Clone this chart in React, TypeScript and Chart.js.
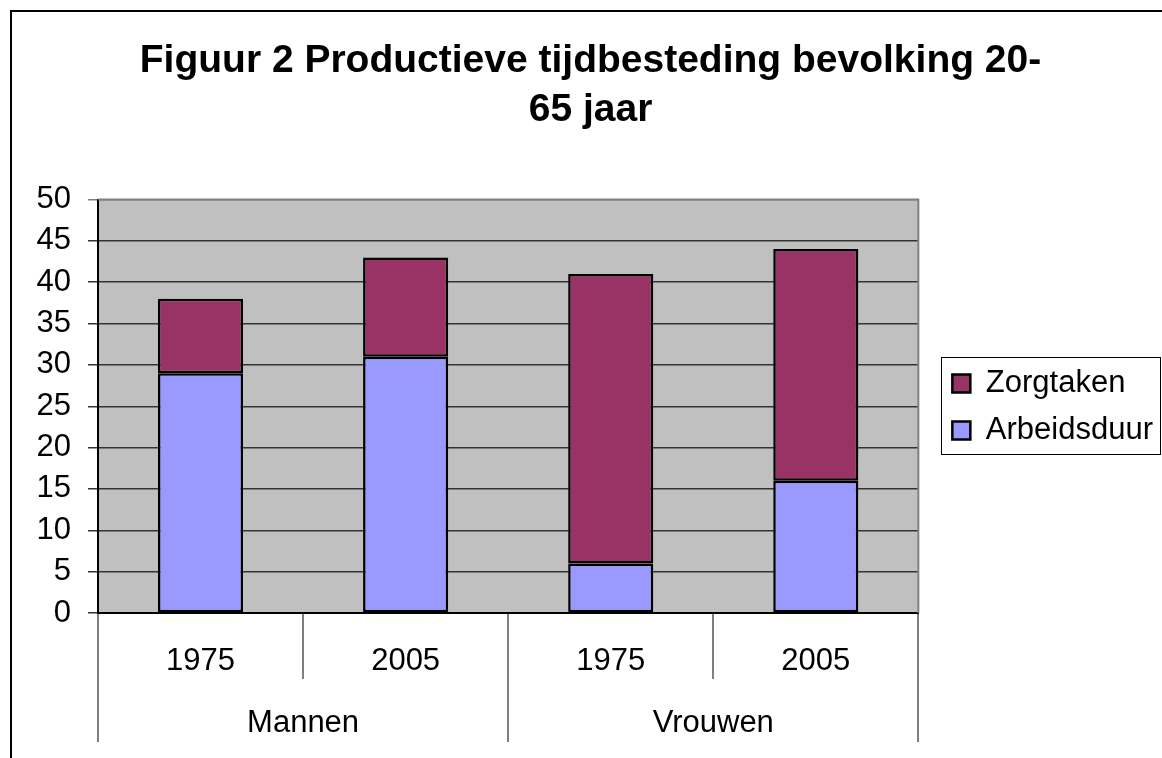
import React, { useEffect, useRef } from 'react';
import { Chart, registerables } from 'chart.js';

Chart.register(...registerables);

const titleLines = ['Figuur 2 Productieve tijdbesteding bevolking 20-', '65 jaar'];
const categories = ['1975', '2005', '1975', '2005'];
const groups = ['Mannen', 'Vrouwen'];
const arbeidsduur = [29, 31, 6, 16];
const zorgtaken = [9, 12, 35, 28];
const yMin = 0;
const yMax = 50;
const yStep = 5;

const FONT = '"Liberation Sans", Arial, sans-serif';
const LEGEND_SHIFT_X = 18;
const LEGEND_SHIFT_Y = 28;

const plotBg = {
  id: 'plotBg',
  afterLayout(chart: any) {
    const lg = chart.legend;
    if (lg) {
      lg.left += LEGEND_SHIFT_X;
      lg.right += LEGEND_SHIFT_X;
      lg.top += LEGEND_SHIFT_Y;
      lg.bottom += LEGEND_SHIFT_Y;
    }
  },
  beforeDraw(chart: any) {
    const { ctx, chartArea: a } = chart;
    ctx.save();
    ctx.fillStyle = '#C0C0C0';
    ctx.fillRect(a.left, a.top, a.right - a.left, a.bottom - a.top);
    ctx.restore();
  },
  beforeDatasetsDraw(chart: any) {
    const { ctx, chartArea: a } = chart;
    ctx.save();
    ctx.strokeStyle = '#808080';
    ctx.lineWidth = 2;
    ctx.beginPath();
    ctx.moveTo(a.left, a.top);
    ctx.lineTo(a.right, a.top);
    ctx.lineTo(a.right, a.bottom);
    ctx.stroke();
    ctx.restore();
  },
};

const legendFrame = {
  id: 'legendFrame',
  afterDraw(chart: any) {
    const lg = chart.legend;
    if (!lg || !lg.legendHitBoxes || !lg.legendHitBoxes.length) return;
    const hb = lg.legendHitBoxes;
    const first = hb[0];
    const last = hb[hb.length - 1];
    const { ctx } = chart;
    const x0 = Math.round(first.left - 11) + 0.5;
    const x1 = Math.round(chart.width - 1) - 0.5;
    const y0 = Math.round(first.top - 11) + 0.5;
    const y1 = Math.round(last.top + last.height + 8) + 0.5;
    ctx.save();
    ctx.strokeStyle = '#000';
    ctx.lineWidth = 1;
    ctx.strokeRect(x0, y0, x1 - x0, y1 - y0);
    ctx.restore();
  },
};

export default function App() {
  const ref = useRef<HTMLCanvasElement>(null);

  useEffect(() => {
    if (!ref.current) return;
    Chart.defaults.font.family = FONT;
    Chart.defaults.color = '#000';
    const chart = new Chart(ref.current, {
      type: 'bar',
      data: {
        labels: categories,
        datasets: [
          {
            label: 'Arbeidsduur',
            data: arbeidsduur,
            backgroundColor: '#9999FF',
            borderColor: '#000',
            borderWidth: 2.5,
            borderSkipped: false,
            barPercentage: 0.415,
            categoryPercentage: 1,
            xAxisID: 'x',
            yAxisID: 'y',
          },
          {
            label: 'Zorgtaken',
            data: zorgtaken,
            backgroundColor: '#993366',
            borderColor: '#000',
            borderWidth: 2.5,
            borderSkipped: false,
            barPercentage: 0.415,
            categoryPercentage: 1,
            xAxisID: 'x',
            yAxisID: 'y',
          },
        ],
      },
      options: {
        responsive: false,
        animation: false,
        layout: { padding: { left: 36, right: 17, top: 0, bottom: 0 } },
        plugins: {
          title: {
            display: true,
            text: titleLines,
            font: { size: 39, weight: 'bold', family: FONT, lineHeight: 1.25 },
            color: '#000',
            padding: { top: 37, bottom: 65 },
          },
          legend: {
            position: 'right',
            reverse: true,
            onClick: () => {},
            labels: {
              font: { size: 31, family: FONT },
              color: '#000',
              boxWidth: 18,
              boxHeight: 18,
              padding: 16,
            },
          },
          tooltip: { enabled: false },
        },
        scales: {
          x: {
            type: 'category',
            position: 'bottom',
            stacked: true,
            weight: 0,
            offset: true,
            grid: {
              offset: true,
              drawOnChartArea: false,
              drawTicks: true,
              tickLength: 66,
              color: '#808080',
              lineWidth: 2,
            },
            border: { display: true, color: '#000', width: 2 },
            ticks: {
              font: { size: 31, family: FONT },
              color: '#000',
              padding: -36,
              maxRotation: 0,
              autoSkip: false,
            },
            afterFit: (s: any) => {
              s.height = 66;
            },
          },
          x2: {
            type: 'category',
            position: 'bottom',
            labels: groups,
            weight: 1,
            offset: true,
            grid: {
              offset: true,
              drawOnChartArea: false,
              drawTicks: true,
              tickLength: 63,
              color: '#808080',
              lineWidth: 2,
            },
            border: { display: false },
            ticks: {
              font: { size: 31, family: FONT },
              color: '#000',
              padding: -37,
              maxRotation: 0,
              autoSkip: false,
            },
            afterFit: (s: any) => {
              s.height = 79;
            },
          },
          y: {
            type: 'linear',
            position: 'left',
            stacked: true,
            min: yMin,
            max: yMax,
            ticks: {
              stepSize: yStep,
              font: { size: 31, family: FONT },
              color: '#000',
              padding: 17,
            },
            grid: {
              color: (c: any) => (c.tick && c.tick.value === yMax ? '#808080' : '#333'),
              lineWidth: 1.5,
              tickLength: 10,
              drawTicks: true,
            },
            border: { display: true, color: '#000', width: 2 },
            afterFit: (s: any) => {
              s.width = 62;
            },
          },
        },
      },
      plugins: [plotBg, legendFrame],
    } as any);
    return () => chart.destroy();
  }, []);

  return (
    <>
      <div
        style={{
          position: 'fixed',
          left: 10,
          top: 10,
          width: 1200,
          height: 800,
          border: '2px solid #000',
          boxSizing: 'border-box',
          background: '#fff',
        }}
      />
      <canvas
        ref={ref}
        width={1162}
        height={758}
        style={{ position: 'fixed', left: 0, top: 0, width: 1162, height: 758, display: 'block' }}
      />
    </>
  );
}
